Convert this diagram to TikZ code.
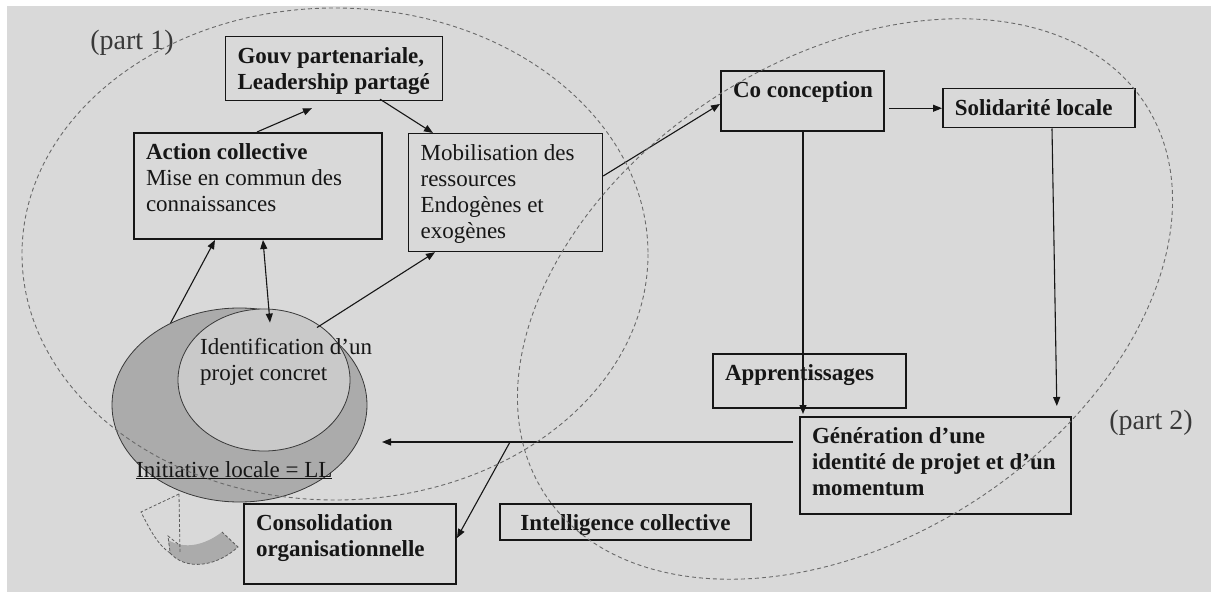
\documentclass[tikz,border=0pt]{standalone}
\usepackage{fontspec}
\setmainfont{Liberation Serif}
\usetikzlibrary{arrows.meta,shapes.geometric,calc}
\definecolor{bg}{HTML}{D9D9D9}
\definecolor{ink}{HTML}{161616}
\definecolor{dashc}{HTML}{6A6A6A}
\definecolor{outerg}{HTML}{ABABAB}
\definecolor{innerg}{HTML}{C9C9C9}
\newcommand{\bxt}[3]{\parbox[c][#2][t]{#1}{\fontsize{23}{26}\selectfont\raggedright\leftskip=12pt\relax\vspace*{8.5pt}\strut #3}}
\newcommand{\bxc}[3]{\parbox[c][#2][t]{#1}{\fontsize{23}{26}\selectfont\centering\vspace*{8.5pt}\strut #3}}
\begin{document}
\begin{tikzpicture}[x=1pt,y=-1pt,
  box/.style={draw=ink, inner sep=0pt, anchor=north west, line width=2pt, text=ink},
  thinbox/.style={box, line width=1.2pt},
  tip/.style={Triangle[length=9pt,width=7pt]},
  arr/.style={draw=ink, line width=1.1pt, -{Triangle[length=9pt,width=7pt]}},
  darr/.style={draw=ink, line width=1.1pt, {Triangle[length=9pt,width=7pt]}-{Triangle[length=9pt,width=7pt]}},
  dsh/.style={draw=dashc, line width=0.9pt, dash pattern=on 4pt off 3pt},
  blob/.style={ellipse, draw=ink!85, line width=0.8pt, inner sep=0pt},
  plain/.style={inner sep=0pt, text=ink, font=\fontsize{23}{26}\selectfont}]
\useasboundingbox (0,0) rectangle (1211,596);
\fill[white] (0,0) rectangle (1211,596);
\fill[bg] (7,6) rectangle (1211,592);

% Initiative locale ellipses
\node[blob, fill=outerg, minimum width=255pt, minimum height=194pt] (li) at (239.5,405) {};
\node[blob, fill=innerg, minimum width=172pt, minimum height=142pt] (ip) at (264,380) {};
\node[plain, anchor=base west] (idt) at (200,354) {\parbox[t]{200pt}{\fontsize{23}{26}\selectfont Identification d’un\\projet concret}};
\node[plain, anchor=base west] (llt) at (136,477) {\underline{Initiative locale = LL}};

% boxes
\node[thinbox] (gouv) at (225,36) {\bxt{217pt}{64pt}{\textbf{Gouv partenariale,}\\\textbf{Leadership partagé}}};
\node[box] (act) at (133,132) {\bxt{248pt}{106pt}{\textbf{Action collective}\\Mise en commun des\\connaissances}};
\node[thinbox] (mob) at (408,133) {\bxt{194pt}{118pt}{Mobilisation des\\ressources\\Endogènes et\\exogènes}};
\node[box] (coc) at (720,70) {\bxt{163pt}{60pt}{\textbf{Co conception}}};
\node[box, line width=1.5pt] (sol) at (942,88) {\bxt{192pt}{39pt}{\textbf{Solidarité locale}}};
\node[box] (app) at (712,353) {\bxt{193pt}{54pt}{\textbf{Apprentissages}}};
\node[box] (gen) at (799,416) {\bxt{271pt}{97pt}{\textbf{Génération d’une}\\\textbf{identité de projet et d’un}\\\textbf{momentum}}};
\node[box] (cons) at (243,503) {\bxt{212pt}{80pt}{\textbf{Consolidation}\\\textbf{organisationnelle}}};
\node[box] (intel) at (499,503) {\bxc{251pt}{36pt}{\textbf{Intelligence collective}}};

% part labels
\node[inner sep=0pt, text=ink!85, font=\fontsize{28}{30}\selectfont] (p1) at (132,43) {(part 1)};
\node[inner sep=0pt, text=ink!85, font=\fontsize{28}{30}\selectfont] (p2) at (1151,423) {(part 2)};

% connectors
\draw[arr] ($(act.north west)+(124,0)$) -- ($(gouv.south west)+(87,7)$);
\draw[arr] ($(gouv.south west)+(155,-2)$) -- ($(mob.north west)+(25,0)$);
\draw[arr] ($(mob.north east)+(0,43)$) -- ($(coc.west)+(0,3)$);
\draw[arr, shorten <=4pt] (coc.east |- sol.west) -- (sol.west);
\draw[arr, shorten >=2pt] ($(coc.south west)+(83,0)$) -- ($(gen.north west)+(4,0)$);
\draw[arr, shorten >=10pt] ($(sol.south west)+(110,0)$) -- ($(gen.north west)+(258,0)$);
\coordinate (ret) at (382,442);
\draw[arr] ($(gen.north west)+(-6,26)$) -- (ret);
\coordinate (br) at (510,442);
\draw[arr] (br) -- ($(cons.north east)+(0,35)$);
\draw[arr] (li.130) -- ($(act.south west)+(82,0)$);
\draw[darr] ($(act.south west)+(130,0)$) -- ($(ip.north)+(6,14)$);
\draw[arr] (li.45) -- ($(mob.south west)+(27,0)$);

% dashed part ellipses
\draw[dsh] (335,254) ellipse [x radius=313, y radius=246];
\draw[dsh, rotate around={33:(845,299)}] (845,299) ellipse [x radius=358, y radius=240];

% curved return arrow
\fill[outerg] (170,553) .. controls (185,570) and (215,568) .. (238,547) -- (222,532) .. controls (205,545) and (185,550) .. (168,540) -- cycle;
\draw[draw=ink!70, line width=0.8pt, dash pattern=on 3pt off 2pt] (170,553) .. controls (185,570) and (215,568) .. (238,547) -- (222,532);
\draw[draw=ink!70, line width=0.8pt, dash pattern=on 3pt off 2pt] (179,494) -- (141,512) .. controls (150,530) and (158,545) .. (170,553);
\draw[draw=ink!70, line width=0.8pt, dash pattern=on 3pt off 2pt] (179,494) -- (180,553);
\draw[draw=ink!70, line width=0.8pt, dash pattern=on 3pt off 2pt] (178,544) -- (168,536) -- (170,552);
\end{tikzpicture}
\end{document}
